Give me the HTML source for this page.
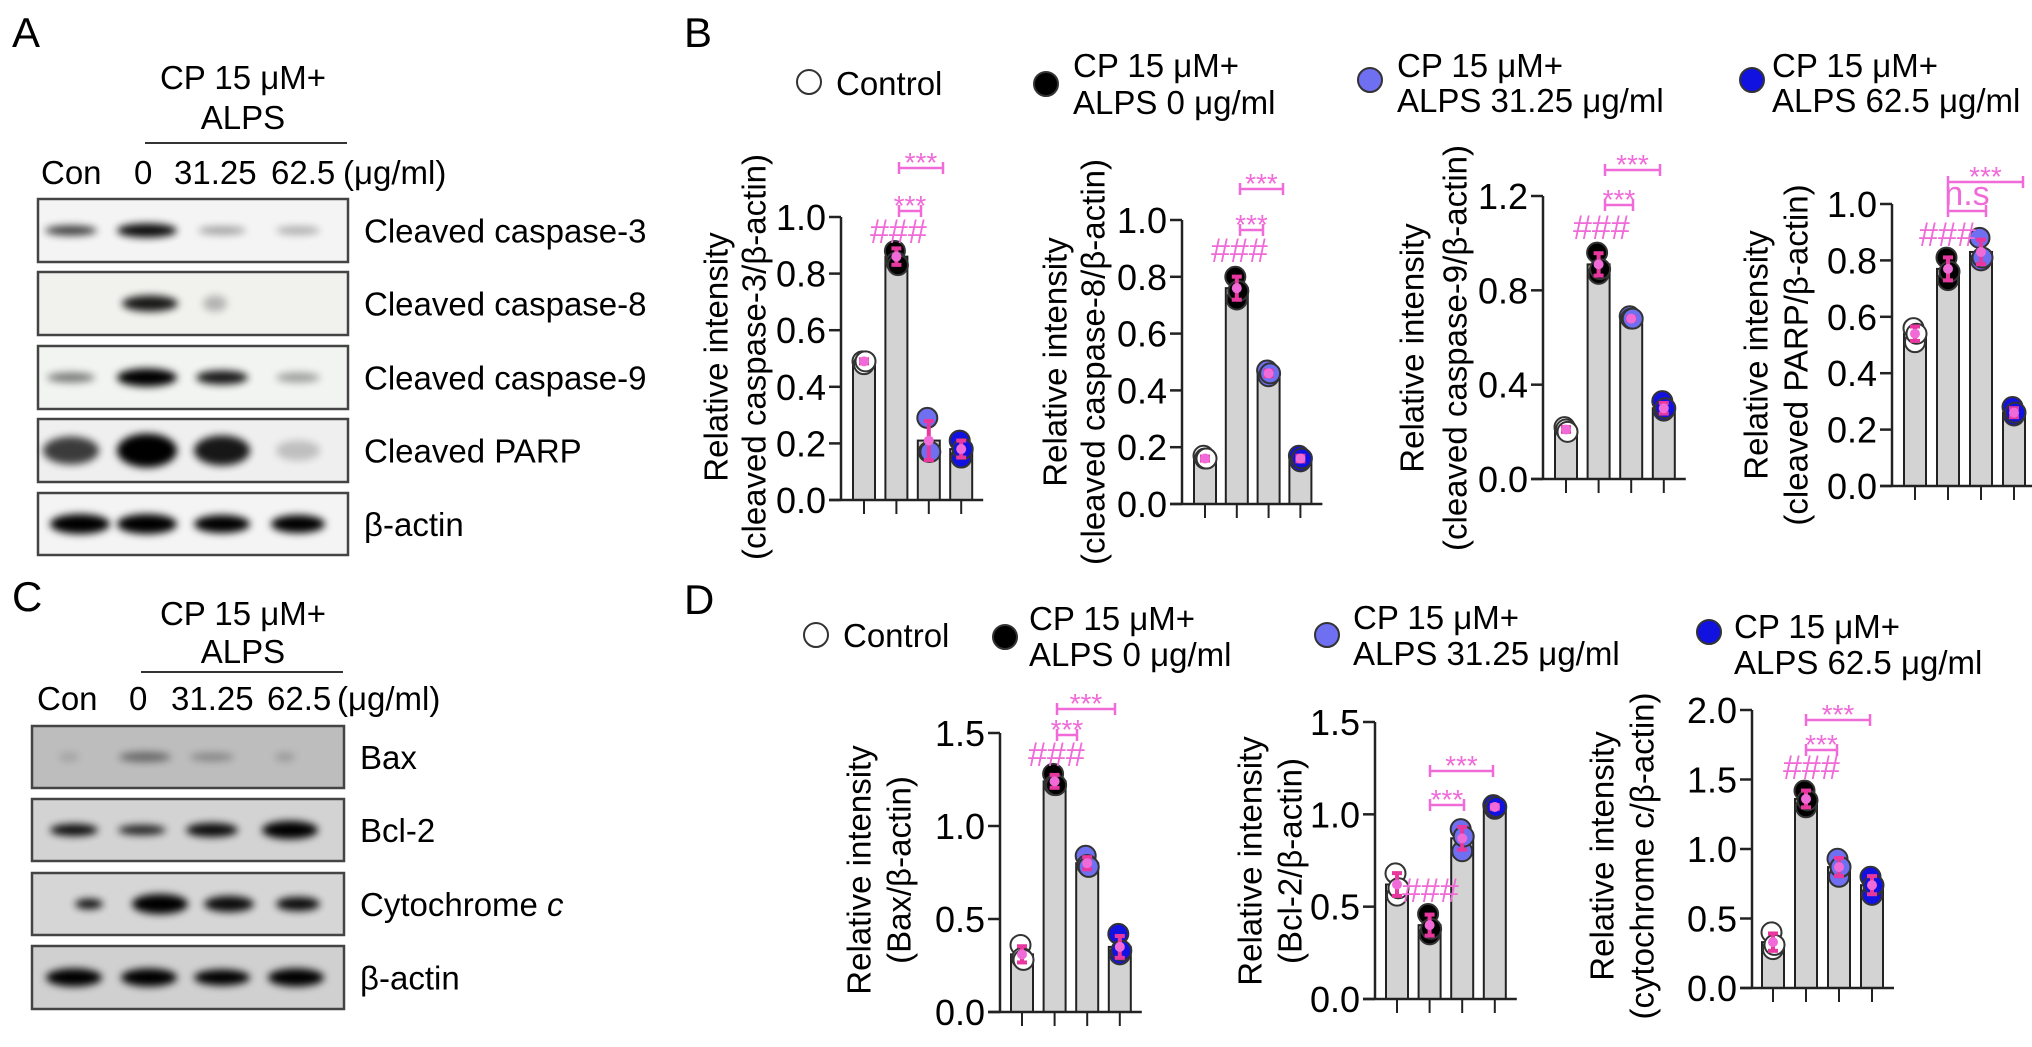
<!DOCTYPE html>
<html><head><meta charset="utf-8"><title>Apoptosis figure</title>
<style>
html,body{margin:0;padding:0;background:#fff;}
svg{display:block;font-family:"Liberation Sans",Arial,sans-serif;}
</style></head>
<body>
<svg id="fig" width="2032" height="1047" viewBox="0 0 2032 1047" xmlns="http://www.w3.org/2000/svg">
<defs><filter id="blur" x="-50%" y="-100%" width="200%" height="300%"><feGaussianBlur stdDeviation="4"/></filter></defs>
<text x="12" y="47" font-size="42">A</text>
<text x="684" y="47" font-size="42">B</text>
<text x="12" y="611" font-size="42">C</text>
<text x="684" y="614" font-size="42">D</text>

<g font-size="33">
<text x="243" y="89" text-anchor="middle">CP 15 μM+</text>
<text x="243" y="129" text-anchor="middle">ALPS</text>
<line x1="145" y1="143" x2="347" y2="143" stroke="#333" stroke-width="2"/>
<text x="41" y="184">Con</text><text x="134" y="184">0</text><text x="174" y="184">31.25</text><text x="271" y="184">62.5</text><text x="343" y="184">(μg/ml)</text>
</g>
<g id="blotA"></g>

<g font-size="33">
<text x="243" y="625" text-anchor="middle">CP 15 μM+</text>
<text x="243" y="663" text-anchor="middle">ALPS</text>
<line x1="141" y1="672" x2="343" y2="672" stroke="#333" stroke-width="2"/>
<text x="37" y="710">Con</text><text x="129" y="710">0</text><text x="171" y="710">31.25</text><text x="267" y="710">62.5</text><text x="337" y="710">(μg/ml)</text>
</g>
<g id="blotC"></g>

<g id="legends"></g>
<g id="charts"></g>
</svg>
<script>
const groups = ['Control', 'CP+ALPS 0', 'CP+ALPS 31.25', 'CP+ALPS 62.5'];
const casp3Means = [0.49, 0.86, 0.21, 0.18];
const casp3Points = [[0.49,0.48,0.49],[0.88,0.84,0.83],[0.29,0.17,0.17],[0.21,0.15,0.18]];
const casp3Ticks = ['0.0','0.2','0.4','0.6','0.8','1.0'];
const casp8Means = [0.16, 0.76, 0.46, 0.16];
const casp8Points = [[0.17,0.16,0.16],[0.80,0.72,0.75],[0.47,0.45,0.46],[0.17,0.15,0.16]];
const casp8Ticks = ['0.0','0.2','0.4','0.6','0.8','1.0'];
const casp9Means = [0.21, 0.91, 0.68, 0.30];
const casp9Points = [[0.22,0.21,0.20],[0.96,0.87,0.89],[0.69,0.68,0.68],[0.33,0.29,0.30]];
const casp9Ticks = ['0.0','0.4','0.8','1.2'];
const parpMeans = [0.54, 0.77, 0.83, 0.26];
const parpPoints = [[0.56,0.51,0.54],[0.81,0.73,0.76],[0.88,0.80,0.81],[0.28,0.25,0.26]];
const parpTicks = ['0.0','0.2','0.4','0.6','0.8','1.0'];
const baxMeans = [0.31, 1.24, 0.80, 0.35];
const baxPoints = [[0.36,0.29,0.28],[1.28,1.22,1.22],[0.84,0.79,0.78],[0.42,0.31,0.33]];
const baxTicks = ['0.0','0.5','1.0','1.5'];
const bcl2Means = [0.62, 0.40, 0.87, 1.04];
const bcl2Points = [[0.68,0.56,0.60],[0.46,0.35,0.38],[0.92,0.80,0.88],[1.05,1.03,1.04]];
const bcl2Ticks = ['0.0','0.5','1.0','1.5'];
const cytoMeans = [0.33, 1.36, 0.87, 0.74];
const cytoPoints = [[0.40,0.28,0.31],[1.42,1.30,1.35],[0.93,0.80,0.87],[0.80,0.67,0.74]];
const cytoTicks = ['0.0','0.5','1.0','1.5','2.0'];

const NS = 'http://www.w3.org/2000/svg';
const PINK = '#f06ad8', PINKD = '#e8389f';
const groupFill = ['#ffffff', '#000000', '#6f6ff2', '#1212e0'];
function el(tag, attrs, parent, txt) {
  const e = document.createElementNS(NS, tag);
  for (const k in attrs) e.setAttribute(k, attrs[k]);
  if (txt !== undefined) e.textContent = txt;
  parent.appendChild(e);
  return e;
}

const layouts = [
  {name:'caspase-3', means:casp3Means, pts:casp3Points, ticks:casp3Ticks, ymax:1.0, x0:841, y0:500, h:283, first:23, step:32.4,
   t1x:716, t2x:754, tcy:357, title2:'(cleaved caspase-3/β-actin)',
   hash:[870,243], br:[[899,921,211,'***'],[899,943,168,'***']]},
  {name:'caspase-8', means:casp8Means, pts:casp8Points, ticks:casp8Ticks, ymax:1.0, x0:1182, y0:504, h:284, first:23, step:31.8,
   t1x:1055, t2x:1093, tcy:362, title2:'(cleaved caspase-8/β-actin)',
   hash:[1211,262], br:[[1240,1263,230,'***'],[1240,1283,189,'***']]},
  {name:'caspase-9', means:casp9Means, pts:casp9Points, ticks:casp9Ticks, ymax:1.2, x0:1543, y0:479, h:283, first:23, step:32.6,
   t1x:1412, t2x:1455, tcy:348, title2:'(cleaved caspase-9/β-actin)',
   hash:[1573,239], br:[[1605,1633,205,'***'],[1605,1660,170,'***']]},
  {name:'parp', means:parpMeans, pts:parpPoints, ticks:parpTicks, ymax:1.0, x0:1892, y0:486, h:282, first:23, step:33,
   t1x:1756, t2x:1796, tcy:355, title2:'(cleaved PARP/β-actin)',
   hash:[1919,246], br:[[1948,1986,211,'n.s'],[1948,2023,182,'***']]},
  {name:'bax', means:baxMeans, pts:baxPoints, ticks:baxTicks, ymax:1.5, x0:1000, y0:1012, h:279, first:22, step:32.6,
   t1x:859, t2x:899, tcy:870, title2:'(Bax/β-actin)',
   hash:[1028,766], br:[[1057,1077,735,'***'],[1057,1115,709,'***']]},
  {name:'bcl-2', means:bcl2Means, pts:bcl2Points, ticks:bcl2Ticks, ymax:1.5, x0:1375, y0:999, h:277, first:22, step:32.6,
   t1x:1250, t2x:1290, tcy:861, title2:'(Bcl-2/β-actin)',
   hash:[1402,902], br:[[1430,1464,805,'***'],[1430,1493,771,'***']]},
  {name:'cytochrome-c', means:cytoMeans, pts:cytoPoints, ticks:cytoTicks, ymax:2.0, x0:1752, y0:988, h:278, first:21, step:33,
   t1x:1602, t2x:1642, tcy:856, title2:'(cytochrome c/β-actin)',
   hash:[1783,779], br:[[1806,1837,750,'***'],[1806,1870,720,'***']]}
];

const chartsG = document.getElementById('charts');
layouts.forEach(c => {
  const g = el('g', {}, chartsG);
  
  
  const yS = v => c.y0 - v / c.ymax * c.h;
  const xS = i => c.x0 + c.first + i * c.step;
  const n = c.means.length;
  c.means.forEach((v, i) => {
    const r = el('rect', {x: xS(i) - 11, y: yS(v), width: 22, height: c.y0 - yS(v), fill: '#d3d3d3', stroke: '#222', 'stroke-width': 2}, g);
    
    
  });
  el('line', {x1: c.x0, y1: c.y0, x2: c.x0, y2: yS(c.ymax), stroke: '#222', 'stroke-width': 2.5}, g);
  el('line', {x1: c.x0 - 12, y1: c.y0, x2: xS(n - 1) + 22, y2: c.y0, stroke: '#222', 'stroke-width': 2.5}, g);
  c.ticks.forEach(t => {
    const v = parseFloat(t), y = yS(v);
    el('line', {x1: c.x0 - 12, y1: y, x2: c.x0, y2: y, stroke: '#222', 'stroke-width': 2.5}, g);
    const tl = el('text', {x: c.x0 - 15, y: y + 13, 'text-anchor': 'end', 'font-size': 36}, g, t);
    
    
  });
  for (let i = 0; i < n; i++) el('line', {x1: xS(i), y1: c.y0, x2: xS(i), y2: c.y0 + 14, stroke: '#222', 'stroke-width': 2}, g);
  const t1 = el('text', {x: c.t1x, y: c.tcy, transform: `rotate(-90 ${c.t1x} ${c.tcy})`, 'text-anchor': 'middle', 'dominant-baseline': 'central', 'font-size': 33}, g, 'Relative intensity');
  
  
  const t2 = el('text', {x: c.t2x, y: c.tcy, transform: `rotate(-90 ${c.t2x} ${c.tcy})`, 'text-anchor': 'middle', 'dominant-baseline': 'central', 'font-size': 33}, g, c.title2);
  
  
  c.pts.forEach((arr, i) => {
    arr.forEach((v, k) => {
      const p = el('circle', {cx: xS(i) + (k - 1) * 1.5, cy: yS(v), r: 10, fill: groupFill[i], stroke: '#333', 'stroke-width': 2}, g);
      
      
    });
    const m = c.means[i];
    const sd = Math.sqrt(arr.reduce((s, v) => s + (v - m) * (v - m), 0) / (arr.length - 1));
    const yt = yS(m + sd), yb = yS(m - sd), x = xS(i);
    const eb = el('g', {stroke: PINKD, 'stroke-width': 4}, g);
    
    
    el('line', {x1: x, y1: yt, x2: x, y2: yb}, eb);
    el('line', {x1: x - 5, y1: yt, x2: x + 5, y2: yt}, eb);
    el('line', {x1: x - 5, y1: yb, x2: x + 5, y2: yb}, eb);
    el('circle', {cx: x, cy: yS(m), r: 5, fill: PINK, stroke: 'none'}, g);
  });
  const h = el('text', {x: c.hash[0], y: c.hash[1], fill: PINK, 'font-size': 34}, g, '###');
  
  
  c.br.forEach(b => {
    const bg = el('g', {stroke: PINK, 'stroke-width': 2.5}, g);
    
    
    el('line', {x1: b[0], y1: b[2], x2: b[1], y2: b[2]}, bg);
    el('line', {x1: b[0], y1: b[2] - 6, x2: b[0], y2: b[2] + 6}, bg);
    el('line', {x1: b[1], y1: b[2] - 6, x2: b[1], y2: b[2] + 6}, bg);
    const isNs = b[3] === 'n.s';
    const tx = el('text', {x: (b[0] + b[1]) / 2, y: isNs ? b[2] - 6 : b[2] + 4, 'text-anchor': 'middle', fill: PINK, 'font-size': isNs ? 34 : 28}, g, b[3]);
    
    
  });
});

const legG = document.getElementById('legends');
function legend(mx, my, fill, tx, lines, bases) {
  const g = el('g', {}, legG);
  
  
  el('circle', {cx: mx, cy: my, r: 12, fill: fill, stroke: '#333', 'stroke-width': 2}, g);
  lines.forEach((l, i) => el('text', {x: tx, y: bases[i], 'font-size': 33}, g, l));
}
legend(809, 82, '#fff', 836, ['Control'], [95]);
legend(1046, 84, '#000', 1073, ['CP 15 μM+', 'ALPS 0 μg/ml'], [77, 114]);
legend(1370, 80, groupFill[2], 1397, ['CP 15 μM+', 'ALPS 31.25 μg/ml'], [77, 112]);
legend(1752, 80, groupFill[3], 1772, ['CP 15 μM+', 'ALPS 62.5 μg/ml'], [77, 112]);
legend(816, 635, '#fff', 843, ['Control'], [647]);
legend(1005, 637, '#000', 1029, ['CP 15 μM+', 'ALPS 0 μg/ml'], [630, 666]);
legend(1327, 635, groupFill[2], 1353, ['CP 15 μM+', 'ALPS 31.25 μg/ml'], [629, 665]);
legend(1709, 632, groupFill[3], 1734, ['CP 15 μM+', 'ALPS 62.5 μg/ml'], [638, 674]);

function blot(parent, x1, x2, rows) {
  rows.forEach(r => {
    const g = el('g', {}, parent);
    
    
    el('rect', {x: x1, y: r.top, width: x2 - x1, height: r.bot - r.top, fill: r.bg, stroke: '#444', 'stroke-width': 2.5}, g);
    const cy = (r.top + r.bot) / 2;
    r.bands.forEach(b => el('ellipse', {cx: b[0], cy: cy + (b[4] || 0), rx: b[1], ry: b[2], fill: '#000', opacity: b[3], filter: 'url(#blur)'}, g));
    const lab = el('text', {x: x2 + 16, y: cy + 12, 'font-size': 33}, g, r.label);
    if (r.italic) el('tspan', {'font-style': 'italic'}, lab, ' c');
  });
}
blot(document.getElementById('blotA'), 38, 348, [
  {top: 199, bot: 262, bg: '#f4f4f4', label: 'Cleaved caspase-3', bands: [[71,26,5,.75],[147,30,7,.95],[222,24,4,.35],[298,22,4,.3]]},
  {top: 272, bot: 335, bg: '#f1f1ee', label: 'Cleaved caspase-8', bands: [[150,28,8,.9],[215,12,8,.25]]},
  {top: 346, bot: 409, bg: '#f2f4f2', label: 'Cleaved caspase-9', bands: [[71,24,5,.5],[147,30,9,1],[222,26,7,.9],[298,22,5,.35]]},
  {top: 419, bot: 482, bg: '#efefef', label: 'Cleaved PARP', bands: [[71,28,14,.75],[147,30,17,1],[222,28,15,.9],[298,22,10,.2]]},
  {top: 493, bot: 555, bg: '#f4f4f4', label: 'β-actin', bands: [[80,30,10,1],[147,30,10,1],[222,28,9,1],[298,27,9,1]]}
]);
blot(document.getElementById('blotC'), 32, 344, [
  {top: 726, bot: 788, bg: '#bdbdbd', label: 'Bax', bands: [[69,10,4,.15],[145,26,5,.45],[212,22,4,.3],[285,10,4,.2]]},
  {top: 799, bot: 861, bg: '#d3d3d3', label: 'Bcl-2', bands: [[74,24,6,.95],[142,24,5,.85],[212,26,7,.95],[290,28,9,1]]},
  {top: 873, bot: 935, bg: '#d6d6d6', label: 'Cytochrome', italic: true, bands: [[89,14,5,.95],[160,28,10,1],[229,25,8,.95],[298,22,7,.95]]},
  {top: 946, bot: 1009, bg: '#d0d0d0', label: 'β-actin', bands: [[74,28,9,1],[149,28,9,1],[222,28,8,1],[296,28,9,1]]}
]);
</script>
</body></html>
